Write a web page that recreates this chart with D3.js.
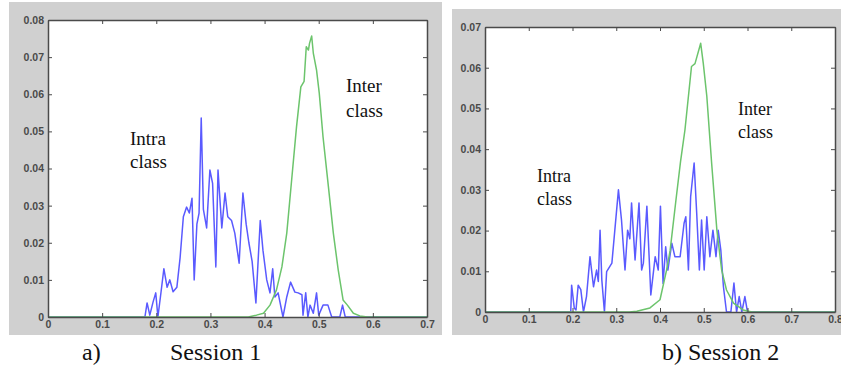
<!DOCTYPE html>
<html lang="en">
<head>
<meta charset="UTF-8">
<title>Intra / Inter class distributions</title>
<script src="https://d3js.org/d3.v7.min.js"></script>
<style>
  * { margin: 0; padding: 0; box-sizing: border-box; }
  body { background: #fff; width: 841px; height: 369px; overflow: hidden; }
  svg { display: block; }
  .tick text { font-family: 'Liberation Sans', Arial, sans-serif; font-size: 10.5px; font-weight: bold; fill: #4a4a4a; }
  .note { font-family: 'Liberation Serif', 'Times New Roman', serif; fill: #111; }
</style>
</head>
<body>
<svg id="chart" width="841" height="369"></svg>
<script>
// ---- data ----
var xTicks1 = [0, 0.1, 0.2, 0.3, 0.4, 0.5, 0.6, 0.7];
var yTicks1 = [0, 0.01, 0.02, 0.03, 0.04, 0.05, 0.06, 0.07, 0.08];
var xTicks2 = [0, 0.1, 0.2, 0.3, 0.4, 0.5, 0.6, 0.7, 0.8];
var yTicks2 = [0, 0.01, 0.02, 0.03, 0.04, 0.05, 0.06, 0.07];

var intra1 = [[0,0],[0.179,0],[0.183,0.0038],[0.188,0.0005],[0.194,0.004],[0.199,0.0065],[0.203,0],[0.209,0.007],
  [0.214,0.013],[0.220,0.008],[0.225,0.010],[0.231,0.0068],[0.238,0.008],[0.244,0.016],[0.250,0.027],[0.256,0.0296],
  [0.261,0.028],[0.266,0.032],[0.270,0.010],[0.275,0.025],[0.279,0.028],[0.283,0.0536],[0.287,0.029],[0.293,0.024],
  [0.299,0.0396],[0.304,0.036],[0.310,0.0135],[0.314,0.0396],[0.321,0.024],[0.327,0.0334],[0.332,0.027],[0.339,0.026],
  [0.345,0.0226],[0.353,0.0145],[0.360,0.0334],[0.366,0.025],[0.371,0.020],[0.377,0.015],[0.384,0.0038],[0.392,0.026],
  [0.397,0.018],[0.404,0.010],[0.41,0.0065],[0.415,0.013],[0.419,0.0054],[0.425,0.0065],[0.434,0],[0.441,0.0054],
  [0.448,0.0094],[0.456,0.0067],[0.462,0.0065],[0.469,0.006],[0.471,0.0005],[0.476,0.0065],[0.48,0],[0.484,0.0032],
  [0.49,0.001],[0.496,0.0065],[0.5,0.0005],[0.508,0.0032],[0.517,0.0032],[0.524,0],[0.539,0],[0.544,0.0032],[0.549,0],[0.7,0]];

var inter1 = [[0,0],[0.37,0],[0.385,0.0005],[0.398,0.001],[0.41,0.0032],[0.422,0.0073],[0.432,0.0135],[0.441,0.0226],
  [0.450,0.0369],[0.459,0.0512],[0.467,0.062],[0.473,0.0635],[0.477,0.0728],[0.481,0.0719],[0.483,0.0737],[0.487,0.0757],
  [0.490,0.0711],[0.496,0.0665],[0.501,0.0603],[0.508,0.0485],[0.518,0.035],[0.527,0.0226],[0.536,0.0127],[0.545,0.0046],
  [0.553,0.0032],[0.564,0.001],[0.576,0.0003],[0.59,0],[0.7,0]];

var intra2 = [[0,0],[0.196,0],[0.198,0.0066],[0.204,0.001],[0.208,0.0005],[0.213,0.0066],[0.219,0.0055],[0.225,0],
  [0.232,0.0038],[0.24,0.0136],[0.248,0.0062],[0.255,0.0103],[0.259,0.0075],[0.263,0.0201],[0.267,0.0079],[0.273,0],
  [0.278,0.0099],[0.29,0.012],[0.305,0.030],[0.312,0.0226],[0.32,0.0103],[0.326,0.0201],[0.331,0.018],[0.335,0.0268],
  [0.343,0.0128],[0.352,0.0268],[0.358,0.0103],[0.362,0.012],[0.370,0.026],[0.379,0.0042],[0.389,0.0136],[0.396,0.0103],
  [0.401,0.026],[0.407,0.007],[0.413,0.016],[0.418,0.0103],[0.427,0.0169],[0.434,0.0136],[0.446,0.0136],[0.455,0.0218],
  [0.459,0.0234],[0.465,0.0103],[0.47,0.0283],[0.478,0.0366],[0.484,0.024],[0.49,0.0103],[0.495,0.0226],[0.501,0.0103],
  [0.507,0.0234],[0.514,0.0136],[0.521,0.0201],[0.528,0.0136],[0.533,0.0201],[0.539,0.0152],[0.545,0.0062],[0.552,0],
  [0.562,0],[0.569,0.0071],[0.575,0],[0.581,0.0038],[0.587,0],[0.594,0.0038],[0.6,0],[0.8,0]];

var inter2 = [[0,0],[0.33,0],[0.347,0.0002],[0.377,0.001],[0.4,0.003],[0.415,0.0103],[0.423,0.015],[0.437,0.028],
  [0.447,0.037],[0.457,0.0447],[0.472,0.0603],[0.48,0.061],[0.493,0.066],[0.499,0.061],[0.507,0.053],[0.518,0.0366],
  [0.53,0.0201],[0.541,0.0103],[0.552,0.0054],[0.568,0.0022],[0.59,0.0005],[0.61,0],[0.8,0]];

var svg = d3.select('#chart');

var panels = [
  { bg: [9, 2, 433, 333], box: { l: 48, t: 20, r: 427, b: 317 }, xMax: 0.7, yMax: 0.08,
    xTicks: xTicks1, yTicks: yTicks1, intra: intra1, inter: inter1,
    notes: [['Intra', 130, 145], ['class', 130, 168], ['Inter', 346, 92], ['class', 346, 117]], noteSize: 19,
    caption: [['a)', 82, 360], ['Session 1', 170, 360]] },
  { bg: [452, 9, 389, 326], box: { l: 485, t: 27, r: 835, b: 312 }, xMax: 0.8, yMax: 0.07,
    xTicks: xTicks2, yTicks: yTicks2, intra: intra2, inter: inter2,
    notes: [['Intra', 537, 182], ['class', 537, 205], ['Inter', 738, 115], ['class', 738, 138]], noteSize: 18,
    caption: [['b) Session 2', 662, 360]] }
];

panels.forEach(function(p) {
  var b = p.box;
  svg.append('rect').attr('x', p.bg[0]).attr('y', p.bg[1]).attr('width', p.bg[2]).attr('height', p.bg[3])
    .attr('fill', '#d0d0d0');
  svg.append('rect').attr('x', b.l).attr('y', b.t).attr('width', b.r - b.l).attr('height', b.b - b.t)
    .attr('fill', '#fff');

  var x = d3.scaleLinear().domain([0, p.xMax]).range([b.l, b.r]);
  var y = d3.scaleLinear().domain([0, p.yMax]).range([b.b, b.t]);

  var fmtX = function(d) { return d === 0 ? '0' : d3.format('.1f')(d); };
  var fmtY = function(d) { return d === 0 ? '0' : d3.format('.2f')(d); };

  var line = d3.line().x(function(d) { return x(d[0]); }).y(function(d) { return y(d[1]); });

  svg.append('path').datum(p.intra).attr('d', line)
    .attr('fill', 'none').attr('stroke', '#5a5aff').attr('stroke-width', 1.5).attr('stroke-linejoin', 'round');
  svg.append('path').datum(p.inter).attr('d', line)
    .attr('fill', 'none').attr('stroke', '#6cc46c').attr('stroke-width', 1.5).attr('stroke-linejoin', 'round');

  // box with inward ticks on all four sides
  var axes = [
    [d3.axisBottom(x).tickValues(p.xTicks).tickFormat(fmtX), 'translate(0,' + b.b + ')'],
    [d3.axisLeft(y).tickValues(p.yTicks).tickFormat(fmtY), 'translate(' + b.l + ',0)'],
    [d3.axisTop(x).tickValues(p.xTicks).tickFormat(''), 'translate(0,' + b.t + ')'],
    [d3.axisRight(y).tickValues(p.yTicks).tickFormat(''), 'translate(' + b.r + ',0)']
  ];
  axes.forEach(function(a) {
    var g = svg.append('g').attr('transform', a[1])
      .call(a[0].tickSizeInner(-4).tickSizeOuter(0).tickPadding(4));
    g.select('.domain').attr('stroke', '#4a4a4a').attr('stroke-width', 1.5);
    g.selectAll('.tick line').attr('stroke', '#4a4a4a');
  });

  p.notes.forEach(function(n) {
    svg.append('text').attr('class', 'note').attr('x', n[1]).attr('y', n[2])
      .attr('font-size', p.noteSize).text(n[0]);
  });
  p.caption.forEach(function(c) {
    svg.append('text').attr('class', 'note').attr('x', c[1]).attr('y', c[2])
      .attr('font-size', 24).text(c[0]);
  });
});
</script>
</body>
</html>
